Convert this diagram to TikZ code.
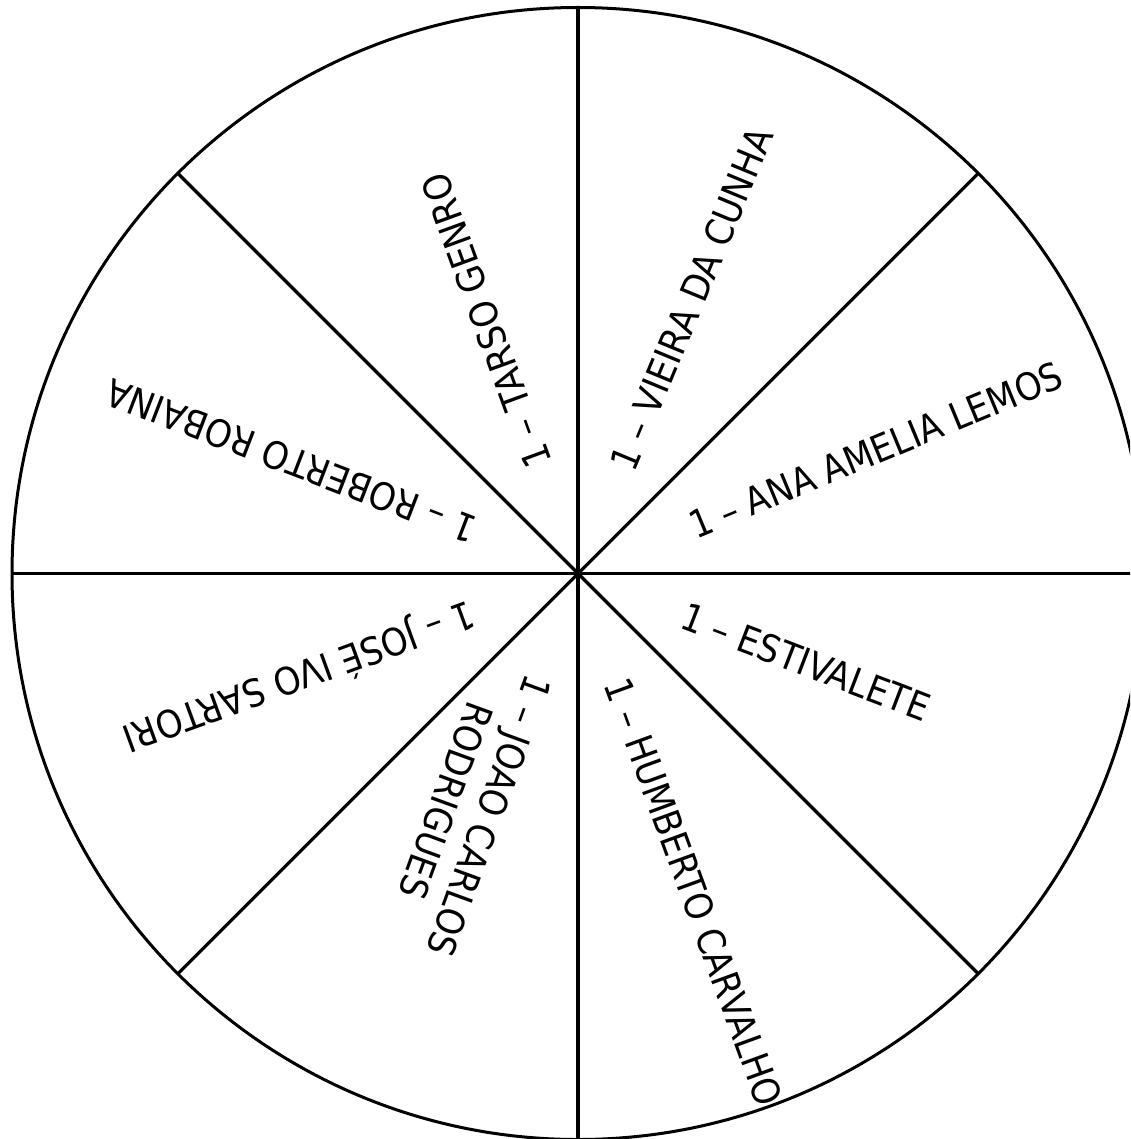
\documentclass[tikz,border=0pt]{standalone}
\usepackage{fontspec}
\setmainfont{DejaVu Sans}[FakeStretch=0.9]
\usetikzlibrary{calc}
\begin{document}
\begin{tikzpicture}[x=1pt,y=1pt,
  lbl/.style={font=\fontsize{38}{46}\selectfont, inner sep=0pt, outer sep=0pt, anchor=west, text height=27.7pt, text depth=0pt},
  lbltwo/.style={font=\fontsize{38}{46}\selectfont, inner sep=0pt, outer sep=0pt, align=center, anchor=north west},
  divider/.style={line width=3.2pt, black}]
\useasboundingbox (0,-1139) rectangle (1130,0);
\fill[white] (0,-1139) rectangle (1130,0);
\clip (0,-1139) rectangle (1130,0);
\coordinate (C) at (578,-573.5);
\node[circle, draw, line width=3pt, minimum size=1132pt, inner sep=0pt, outer sep=0pt] (wheel) at (C) {};
\draw[divider] (wheel.north) -- (wheel.south);
\draw[divider] (wheel.west) -- (wheel.east);
\draw[divider] (wheel.north west) -- (wheel.south east);
\draw[divider] (wheel.north east) -- (wheel.south west);
\node[lbl, rotate=67.5] (vieira) at ($(C)+(67.5:114)$) {1 – VIEIRA DA CUNHA};
\node[lbl, rotate=22.5] (ana) at ($(C)+(22.5:122)$) {1 – ANA AMELIA LEMOS};
\node[lbl, rotate=-21] (estivalete) at ($(C)+(-21.5:113)$) {1 – ESTIVALETE};
\node[lbl, rotate=-70] (humberto) at ($(C)+(-70:113)$) {1 – HUMBERTO CARVALHO};
\node[lbltwo, rotate=-110] (joao) at ($(C)+(-110:111)+(-20:13.85)$) {1 – JOAO CARLOS\\RODRIGUES};
\node[lbl, rotate=200] (jose) at ($(C)+(201:112)$) {1 – JOSÉ IVO SARTORI};
\node[lbl, rotate=159] (roberto) at ($(C)+(158:112)$) {1 – ROBERTO ROBAINA};
\node[lbl, rotate=110] (tarso) at ($(C)+(110:114)$) {1 – TARSO GENRO};
\end{tikzpicture}
\end{document}
